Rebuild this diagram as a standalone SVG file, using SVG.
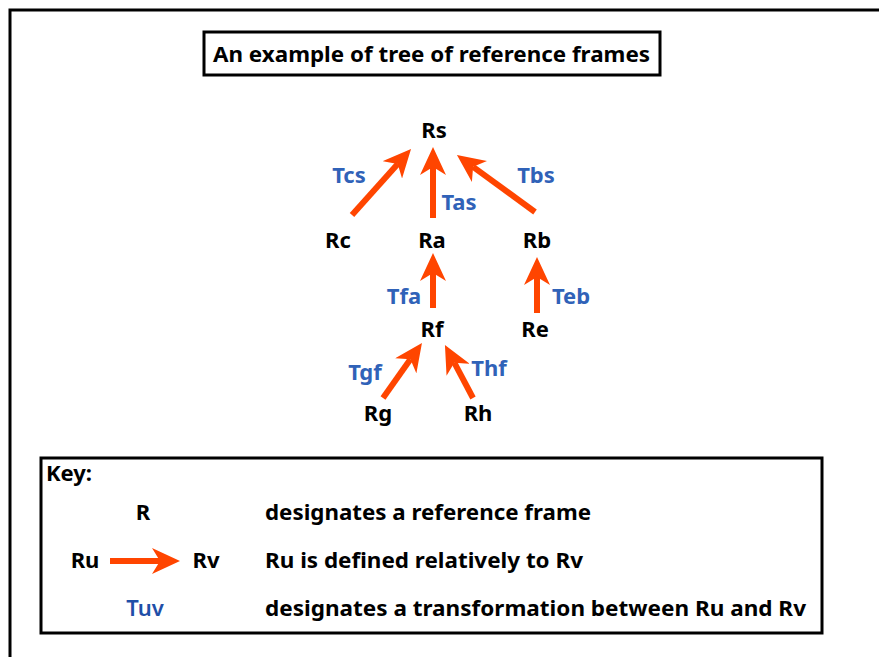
<svg xmlns="http://www.w3.org/2000/svg" width="879" height="657" viewBox="0 0 879 657">
<style>
.n{font-family:"Noto Sans","Open Sans",sans-serif;font-weight:bold;font-size:22px;fill:#000;text-anchor:middle}
.t{font-family:"Noto Sans","Open Sans",sans-serif;font-weight:bold;font-size:22px;fill:#3062B8;text-anchor:middle}
.k{font-family:"Noto Sans","Open Sans",sans-serif;font-weight:bold;font-size:22px;fill:#000}
.a{stroke:#FF4500;stroke-width:6;fill:none;marker-end:url(#ah)}
.box{fill:#fff;stroke:#000;stroke-width:3}
</style>
<defs>
<marker id="ah" viewBox="0 0 28 26" refX="8" refY="13" markerWidth="28" markerHeight="26" markerUnits="userSpaceOnUse" orient="auto">
<path d="M0,0 L28,13 L0,26 L8,13 z" fill="#FF4500"/>
</marker>
</defs>
<rect x="0" y="0" width="879" height="657" fill="#fff"/>
<rect x="10" y="10" width="900" height="700" fill="none" stroke="#000" stroke-width="3"/>
<g id="title">
<rect class="box" x="204" y="32" width="456" height="43"/>
<text class="k" x="213" y="62" textLength="437" lengthAdjust="spacingAndGlyphs">An example of tree of reference frames</text>
</g>
<g id="connectors">
<line class="a" x1="352" y1="215" x2="397.7" y2="163.9"/>
<line class="a" x1="433" y1="218" x2="433" y2="167"/>
<line class="a" x1="535" y1="212" x2="473.1" y2="166.8"/>
<line class="a" x1="433" y1="308" x2="433" y2="273"/>
<line class="a" x1="537" y1="313" x2="537" y2="277"/>
<line class="a" x1="383" y1="398" x2="410.4" y2="359.3"/>
<line class="a" x1="473" y1="398" x2="454.3" y2="362.7"/>
</g>
<g id="labels">
<text class="t" x="349" y="183">Tcs</text>
<text class="t" x="459" y="210">Tas</text>
<text class="t" x="536" y="183">Tbs</text>
<text class="t" x="404" y="304">Tfa</text>
<text class="t" x="571" y="304">Teb</text>
<text class="t" x="365" y="380">Tgf</text>
<text class="t" x="489" y="376">Thf</text>
</g>
<g id="Rs"><text class="n" x="434" y="138">Rs</text></g>
<g id="Rc"><text class="n" x="338" y="248">Rc</text></g>
<g id="Ra"><text class="n" x="432" y="248">Ra</text></g>
<g id="Rb"><text class="n" x="537" y="248">Rb</text></g>
<g id="Rf"><text class="n" x="432" y="337">Rf</text></g>
<g id="Re"><text class="n" x="535" y="337">Re</text></g>
<g id="Rg"><text class="n" x="378" y="421">Rg</text></g>
<g id="Rh"><text class="n" x="478" y="421">Rh</text></g>
<g id="key">
<rect class="box" x="41" y="458" width="781" height="175"/>
<text class="k" x="46" y="481">Key:</text>
<text class="n" x="143" y="520">R</text>
<text class="k" x="265" y="520" textLength="326" lengthAdjust="spacingAndGlyphs">designates a reference frame</text>
<text class="n" x="85" y="568">Ru</text>
<line class="a" x1="110" y1="561" x2="160" y2="561"/>
<text class="n" x="206" y="568">Rv</text>
<text class="k" x="265" y="568" textLength="318" lengthAdjust="spacingAndGlyphs">Ru is defined relatively to Rv</text>
<text class="t" x="145" y="616" style="fill:#1F4FA8;font-weight:600">Tuv</text>
<text class="k" x="265" y="616" textLength="541" lengthAdjust="spacingAndGlyphs">designates a transformation between Ru and Rv</text>
</g>
</svg>
